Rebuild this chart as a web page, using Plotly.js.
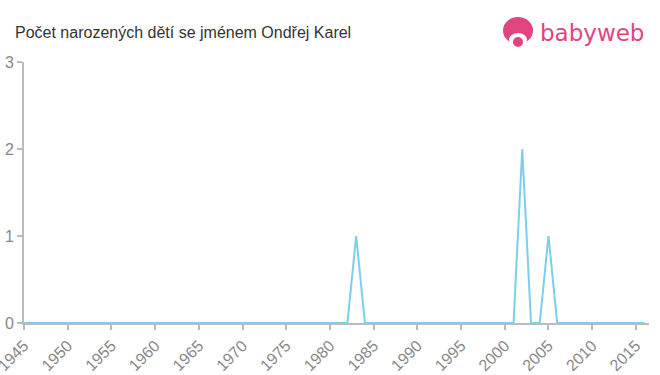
<!DOCTYPE html>
<html>
<head>
<meta charset="utf-8">
<script src="https://cdn.plot.ly/plotly-3.0.1.min.js"></script>
<style>html,body{margin:0;padding:0;background:#fff;}#chart{width:660px;height:375px;}</style>
</head>
<body>
<div id="chart"></div>
<script>
const years = [];
for (let y = 1945; y <= 2016; y++) years.push(y);
const nonZeroYears = [1983, 2002, 2005];
const nonZeroCounts = [1, 2, 1];
const counts = years.map(y => { const i = nonZeroYears.indexOf(y); return i >= 0 ? nonZeroCounts[i] : 0; });
const tickYears = [1945,1950,1955,1960,1965,1970,1975,1980,1985,1990,1995,2000,2005,2010,2015];
const titleText = 'Počet narozených dětí se jménem Ondřej Karel';

const L = 24, R = 649, T = 62, B = 323;
function px(x){ return (x - L) / (R - L); }
function py(y){ return (B - y) / (B - T); }
const pink = '#e2447f';

Plotly.newPlot('chart', [{
  x: years, y: counts, type: 'scatter', mode: 'lines',
  line: {color: '#7ccfec', width: 2}, hoverinfo: 'skip'
}], {
  width: 660, height: 375,
  margin: {l: L, r: 660 - R, t: T, b: 375 - B, pad: 0},
  paper_bgcolor: '#fff', plot_bgcolor: '#fff',
  showlegend: false,
  title: {text: titleText, x: 15/660, xanchor: 'left', y: 1 - 32/375, yanchor: 'middle',
          font: {family: 'Liberation Sans, Arial, sans-serif', size: 16, color: '#333'}},
  xaxis: {range: [1945, 2016.5], tickvals: tickYears, ticktext: tickYears.map(String),
          tickangle: -45, ticks: 'outside', ticklen: 5, tickcolor: '#bbb', tickwidth: 2,
          ticklabeloverflow: 'allow',
          showline: true, linecolor: '#bbb', linewidth: 2, showgrid: false, zeroline: false,
          tickfont: {family: 'Liberation Sans, Arial, sans-serif', size: 16, color: '#888'}},
  yaxis: {range: [0, 3], tickvals: [0,1,2,3], ticks: 'outside', ticklen: 5, tickcolor: '#bbb', tickwidth: 2,
          showline: true, linecolor: '#bbb', linewidth: 2, showgrid: false, zeroline: false,
          tickfont: {family: 'Liberation Sans, Arial, sans-serif', size: 16, color: '#888'}},
  shapes: [
    {type: 'circle', xref: 'paper', yref: 'paper', xsizemode: 'pixel', ysizemode: 'pixel',
     xanchor: px(518), yanchor: py(31), x0: -15, x1: 15, y0: -13, y1: 14, fillcolor: pink, line: {width: 0}},
    {type: 'circle', xref: 'paper', yref: 'paper', xsizemode: 'pixel', ysizemode: 'pixel',
     xanchor: px(518), yanchor: py(39), x0: -9, x1: 9, y0: -7, y1: 6, fillcolor: '#fff', line: {width: 0}},
    {type: 'circle', xref: 'paper', yref: 'paper', xsizemode: 'pixel', ysizemode: 'pixel',
     xanchor: px(518), yanchor: py(42), x0: -5, x1: 5, y0: -5, y1: 5, fillcolor: pink, line: {width: 0}}
  ],
  annotations: [
    {text: 'babyweb', xref: 'paper', yref: 'paper', x: px(538), y: py(33), xanchor: 'left', yanchor: 'middle',
     showarrow: false, font: {family: 'DejaVu Sans, sans-serif', size: 23, color: pink}}
  ]
}, {displayModeBar: false, staticPlot: true});
</script>
</body>
</html>
